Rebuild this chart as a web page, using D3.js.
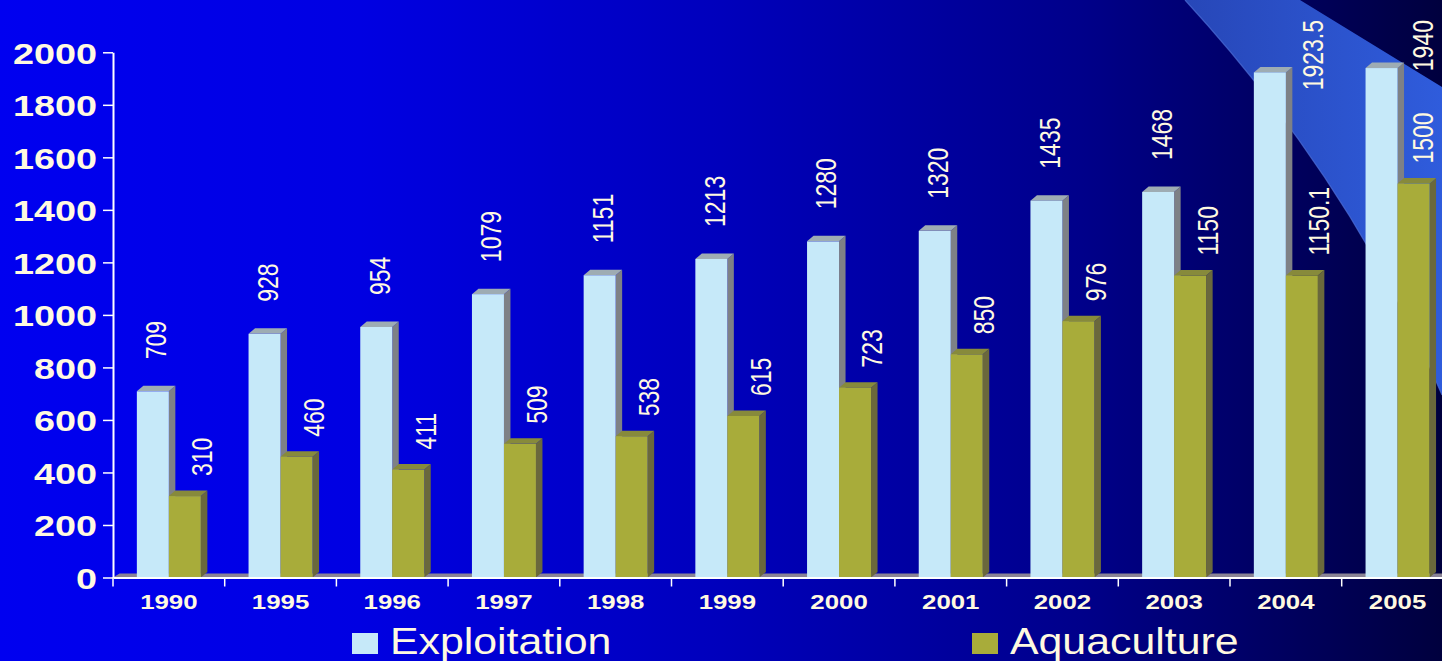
<!DOCTYPE html>
<html><head><meta charset="utf-8">
<script src="https://cdn.jsdelivr.net/npm/d3@7"></script>
<style>html,body{margin:0;padding:0;overflow:hidden;background:#000}svg{display:block}</style>
</head><body><svg id="c" width="1442" height="661"></svg>
<script>
// ---- data ----
const years = ["1990","1995","1996","1997","1998","1999","2000","2001","2002","2003","2004","2005"];
const exploitation = [709,928,954,1079,1151,1213,1280,1320,1435,1468,1923.5,1940];
const aquaculture = [310,460,411,509,538,615,723,850,976,1150,1150.1,1500];
const seriesNames = ["Exploitation","Aquaculture"];
const yTicks = [0,200,400,600,800,1000,1200,1400,1600,1800,2000];

// ---- style ----
const W = 1442, H = 661;
const TXT = "#fff9e0";
const FONT = "'Liberation Sans', Arial, sans-serif";
const STRETCH = 1.26;
const colors = {
  Exploitation: {front:"#c6e9f9", top:"#9eacb3", side:"#7e8186"},
  Aquaculture:  {front:"#a8ac3a", top:"#878a3b", side:"#6a683c"}
};
const DX = 6.5, DY = 5.5;

const svg = d3.select("#c");
const defs = svg.append("defs");
const bg = defs.append("linearGradient").attr("id","bg").attr("x1",0).attr("x2",1).attr("y1",0).attr("y2",0);
[[0,"#0000f0"],[0.25,"#0000e2"],[0.5,"#0000bc"],[0.75,"#00008a"],[1,"#00003e"]]
  .forEach(([o,c])=>bg.append("stop").attr("offset",o).attr("stop-color",c));
const bandG = defs.append("linearGradient").attr("id","band").attr("x1",0).attr("x2",1).attr("y1",0).attr("y2",0);
[[0,"#2747b8"],[1,"#2f5cdc"]].forEach(([o,c])=>bandG.append("stop").attr("offset",o).attr("stop-color",c));

svg.append("rect").attr("width",W).attr("height",H).attr("fill","url(#bg)");
// decorative light band top-right
svg.append("path")
  .attr("d","M1185,0 Q1352,182 1442,395 L1442,87 L1300,0 Z")
  .attr("fill","url(#band)");
svg.append("path")
  .attr("d","M1185,0 Q1352,182 1442,395")
  .attr("fill","none").attr("stroke","#4f70d8").attr("stroke-width",1.2).attr("opacity",0.7);

// ---- scales ----
const x = d3.scaleBand().domain(years).range([113, 1453.4]).padding(0);
const y = d3.scaleLinear().domain([0,2000]).range([577.5, 52.3]);
const barW = 32;
const xs = d3.scaleBand().domain(seriesNames).range([x.bandwidth()/2 - barW, x.bandwidth()/2 + barW]);

// floor
svg.append("polygon")
  .attr("points", [[113,y(0)],[113+DX,y(0)-4],[W,y(0)-4],[W,y(0)]].join(" "))
  .attr("fill","#8a8494");

// ---- bars ----
const rows = years.map((yr,i)=>({year:yr, vals:[
  {s:"Exploitation", v:exploitation[i]},
  {s:"Aquaculture", v:aquaculture[i]}
]}));
const barsG = svg.append("g");
rows.forEach(r=>{
  r.vals.forEach(d=>{
    const x0 = x(r.year) + xs(d.s), w = xs.bandwidth(), yt = y(d.v), yb = y(0);
    const c = colors[d.s];
    const g = barsG.append("g");
    g.append("polygon").attr("points",[[x0+w,yt],[x0+w+DX,yt-DY],[x0+w+DX,yb-DY],[x0+w,yb]].join(" ")).attr("fill",c.side);
    g.append("polygon").attr("points",[[x0,yt],[x0+DX,yt-DY],[x0+w+DX,yt-DY],[x0+w,yt]].join(" ")).attr("fill",c.top);
    g.append("rect").attr("x",x0).attr("y",yt).attr("width",w).attr("height",yb-yt).attr("fill",c.front);
  });
});

// ---- axes ----
const yAx = svg.append("g").attr("transform","translate(113,0)")
  .call(d3.axisLeft(y).tickValues(yTicks).tickSize(10).tickSizeOuter(0).tickFormat(d3.format("d")));
yAx.select(".domain").attr("stroke","#fff").attr("stroke-width",2);
yAx.selectAll(".tick line").attr("stroke","#fff").attr("stroke-width",1.5);
yAx.selectAll(".tick text")
  .attr("x", -16/1.26).attr("dy","0.36em")
  .attr("transform","scale(1.26,1)")
  .attr("fill",TXT).style("font-family",FONT).style("font-size","30px").style("font-weight","bold");

const xAx = svg.append("g").attr("transform",`translate(0,${y(0)})`)
  .call(d3.axisBottom(x).tickSize(0).tickSizeOuter(0));
xAx.select(".domain").attr("stroke","#fff").attr("stroke-width",2);
xAx.selectAll(".tick text")
  .attr("y",17).attr("dy","0.71em")
  .attr("transform",`scale(1.23,1)`)
  .attr("fill",TXT).style("font-family",FONT).style("font-size","21px").style("font-weight","bold");
svg.append("g").selectAll("line").data(years).join("line")
  .attr("x1",d=>x(d)).attr("x2",d=>x(d)).attr("y1",y(0)).attr("y2",y(0)+9)
  .attr("stroke","#fff").attr("stroke-width",1.5);

// ---- value labels ----
const labG = svg.append("g");
rows.forEach(r=>{
  r.vals.forEach(d=>{
    const x0 = x(r.year) + xs(d.s), w = xs.bandwidth(), yt = y(d.v);
    const t = labG.append("text").text(String(d.v))
      .attr("fill",TXT).style("font-family",FONT).style("font-size","23px")
      .attr("dy","0.36em").attr("text-anchor","start");
    const len = t.node().getComputedTextLength();
    let cx, by;
    if (d.s === "Exploitation") { cx = x0 + w/2 + 3; by = yt - 32; }
    else { cx = x0 + w/2 + 17; by = yt - 20; }
    if (by - len < 8) { cx = x0 + w + DX + 20; by = 20 + len; }
    cx = Math.min(cx, W - 19);
    t.attr("transform",`translate(${cx},${by}) scale(${STRETCH},1) rotate(-90)`);
  });
});

// ---- legend ----
const legX = [352, 972];
const leg = svg.append("g");
seriesNames.forEach((s,i)=>{
  leg.append("rect").attr("x",legX[i]).attr("y",633).attr("width",26).attr("height",21).attr("fill",colors[s].front);
  leg.append("text").text(s)
    .attr("transform",`translate(${legX[i]+38},654) scale(1.19,1)`)
    .attr("fill",TXT).style("font-family",FONT).style("font-size","36px");
});
</script></body></html>
